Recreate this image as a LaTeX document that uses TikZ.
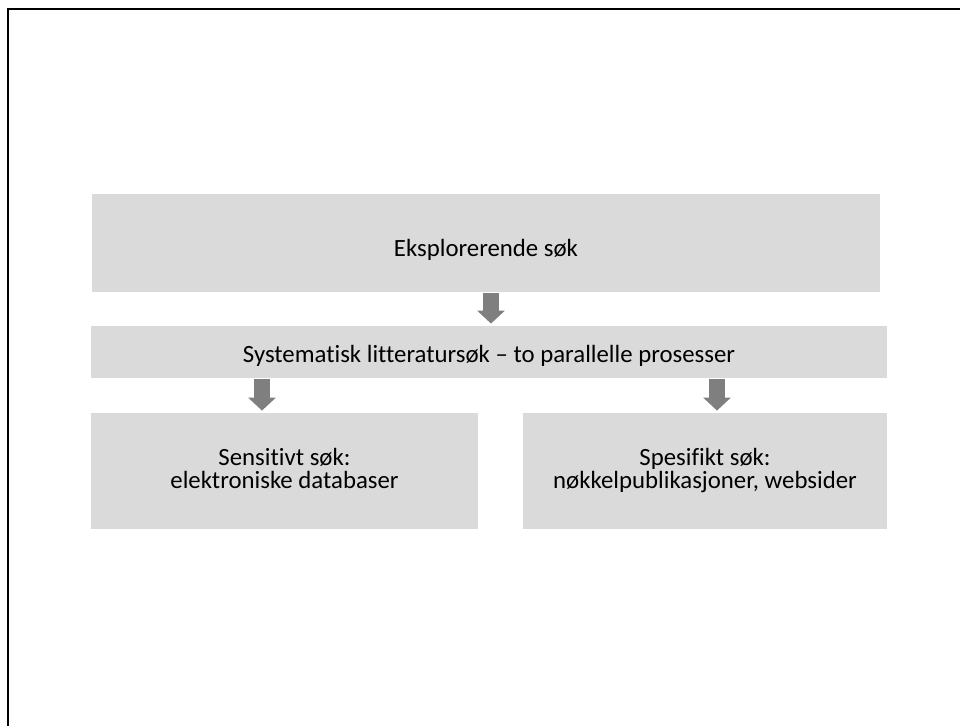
\documentclass[tikz,border=0pt]{standalone}
\usepackage{fontspec}
\setmainfont{Carlito}[Ligatures=CommonOff]
\usetikzlibrary{arrows.meta,positioning}

\definecolor{boxgray}{HTML}{DADADA}
\definecolor{arrowgray}{HTML}{7F7F7F}

\begin{document}
\begin{tikzpicture}[x=0.5pt,y=-0.5pt]
    % search process
    \tikzset{box/.style = {shape=rectangle,fill=boxgray,inner sep=0pt}}
    \tikzset{txt/.style = {inner sep=0pt,align=center,
        font=\fontsize{12.4}{11.5}\selectfont}}
    \tikzset{down/.style = {-{Triangle[width=13.5pt,length=6.5pt]},line width=8pt,
        draw=arrowgray,shorten <=0.5pt,shorten >=1pt}}

    \useasboundingbox (0,0) rectangle (960,726);
    \draw[line width=1pt] (8,726) -- (8,9.5) -- (960,9.5);

    % exploring
    \node[box,minimum width=394pt,minimum height=49pt] (explore) at (486,243) {};
    \node[txt] (exploretxt) at ([yshift=-3.5pt]explore.center) {Eksplorerende søk};
    \node[box,minimum width=398pt,minimum height=26pt] (system) at (489,352) {};
    \node[txt] (systemtxt) at ([yshift=-2pt]system.center)
       {Systematisk litteratursøk – to parallelle prosesser};

    % two parallel processes
    \node[box,minimum width=193.5pt,minimum height=58pt] (sensitive) at (284.5,471) {};
    \node[txt] (sensitivetxt) at ([yshift=0.25pt]sensitive.center)
       {Sensitivt søk:\\elektroniske databaser\vphantom{p,}};
    \node[box,minimum width=182pt,minimum height=58pt] (specific) at (705,471) {};
    \node[txt] (specifictxt) at ([yshift=0.25pt]specific.center)
       {Spesifikt søk:\\nøkkelpublikasjoner, websider};

    \draw[down] ([xshift=2.5pt]explore.south) -- ([xshift=2.5pt]explore.south |- system.north);
    \draw[down] ([xshift=-11.25pt]sensitive.north |- system.south) -- ([xshift=-11.25pt]sensitive.north);
    \draw[down] ([xshift=6pt]specific.north |- system.south) -- ([xshift=6pt]specific.north);
\end{tikzpicture}
\end{document}
